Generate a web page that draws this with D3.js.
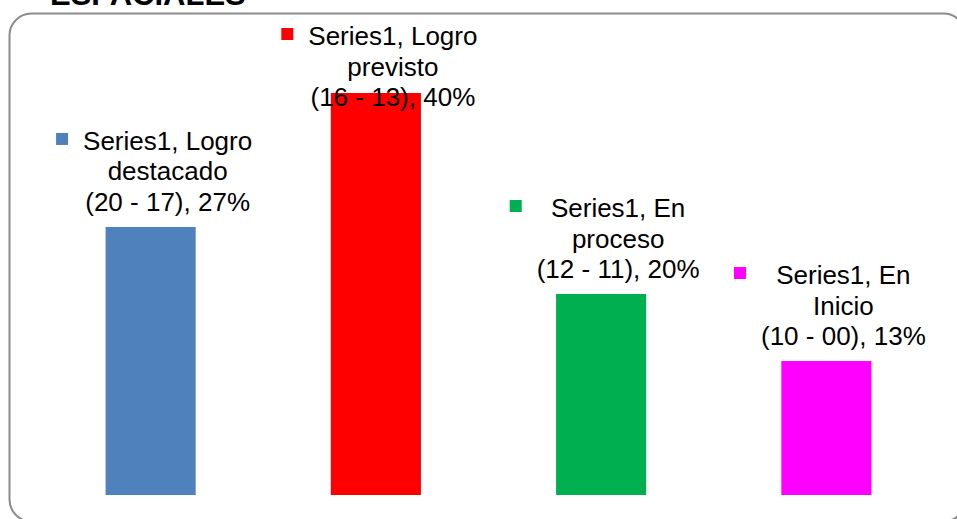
<!DOCTYPE html>
<html>
<head>
<meta charset="utf-8">
<script src="https://cdn.jsdelivr.net/npm/d3@7"></script>
<style>
  body { margin: 0; background: #fff; }
  svg { display: block; font-family: "Liberation Sans", Arial, sans-serif; }
</style>
</head>
<body>
<svg width="957" height="519"></svg>
<script>
const width = 957;
const height = 519;

// data
const categories = ['Logro destacado', 'Logro previsto', 'En proceso', 'En Inicio'];
const ranges = ['(20 - 17)', '(16 - 13)', '(12 - 11)', '(10 - 00)'];
const values = [26.67, 40, 20, 13.33];
const colors = ['#4f81bd', '#ff0000', '#00b050', '#ff00ff'];
const seriesName = 'Series1';

const svg = d3.select('svg');

// clipped title above the frame
svg.append('text')
    .attr('x', 50)
    .attr('y', 5)
    .style('font-size', '31px')
    .style('font-weight', 'bold')
    .text('ESPACIALES');

// rounded frame, partly off-page
svg.append('rect')
    .attr('x', 9.5)
    .attr('y', 13.5)
    .attr('width', 956)
    .attr('height', 508)
    .attr('rx', 22)
    .style('fill', 'none')
    .style('stroke', '#8c8c8c')
    .style('stroke-width', 2);

let x = d3.scaleBand()
    .domain(categories)
    .range([38, 939])
    .paddingInner(0.6)
    .paddingOuter(0.3);

let y = d3.scaleLinear().domain([0, 40]).range([495, 93]);

let data = categories.map(function (c, i) {
    return {cat: c, range: ranges[i], value: values[i], color: colors[i]};
});

svg.append('g')
    .selectAll('rect')
    .data(data)
    .enter()
    .append('rect')
    .attr('x', d => x(d.cat))
    .attr('y', d => y(d.value))
    .attr('width', x.bandwidth())
    .attr('height', d => y(0) - y(d.value))
    .style('fill', d => d.color);

// data labels with legend key
const lineGap = 30.5;
let labels = svg.append('g')
    .selectAll('g')
    .data(data)
    .enter()
    .append('g');

labels.each(function (d) {
    let g = d3.select(this);
    let cx = x(d.cat) + x.bandwidth() / 2 + 17;
    let words = d.cat.split(' ');
    let lines = [seriesName + ', ' + words[0], words.slice(1).join(' '),
        d.range + ', ' + Math.round(d.value) + '%'];
    let last = Math.max(y(d.value) - 16, 45 + 2 * lineGap);
    let first = last - 2 * lineGap;
    let maxW = 0;
    lines.forEach(function (t, k) {
        let txt = g.append('text')
            .attr('x', cx)
            .attr('y', first + k * lineGap)
            .attr('text-anchor', 'middle')
            .style('font-size', '26px')
            .style('fill', '#000')
            .text(t);
        maxW = Math.max(maxW, txt.node().getComputedTextLength());
    });
    g.append('rect')
        .attr('x', cx - maxW / 2 - 27)
        .attr('y', first - 17)
        .attr('width', 12)
        .attr('height', 12)
        .style('fill', d.color);
});
</script>
</body>
</html>
